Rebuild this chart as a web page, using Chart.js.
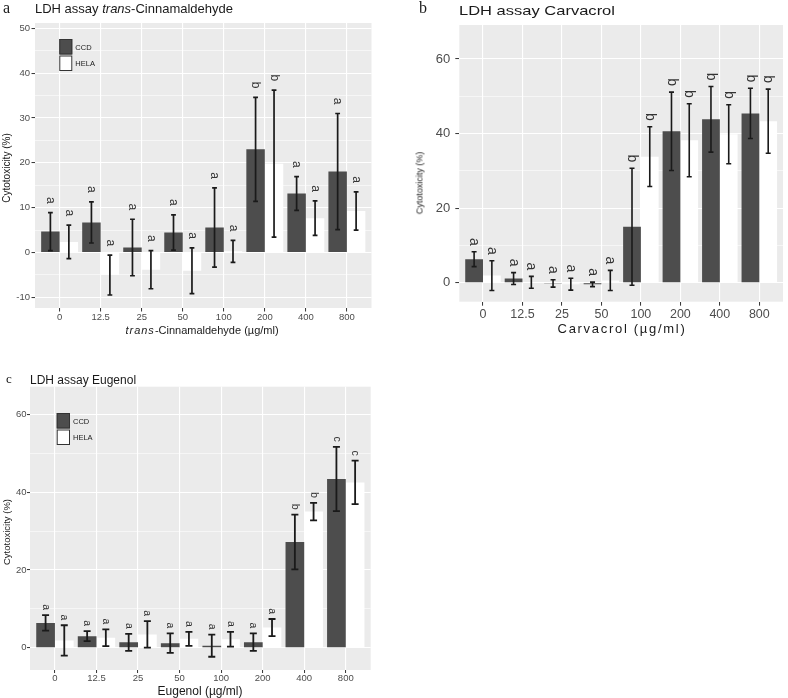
<!DOCTYPE html>
<html>
<head>
<meta charset="utf-8">
<script src="https://cdn.jsdelivr.net/npm/chart.js@4"></script>
<style>
  body { margin: 0; background: #fff; }
  #fig { position: relative; width: 788px; height: 698px; overflow: hidden;
         font-family: "Liberation Sans", Arial, sans-serif; color: #1a1a1a; }
  .box { position: absolute; }
  .t { position: absolute; white-space: nowrap; line-height: 1; }
  .ctr { transform: translate(-50%, -50%); }
  .rot { transform: translate(-50%, -50%) rotate(-90deg); }
  .tag { font-family: "Liberation Serif", "Times New Roman", serif; }
  .narrow { font-family: "Liberation Sans Narrow", "Arial Narrow", "Liberation Sans", sans-serif; }
</style>
</head>
<body>
<div id="fig">
  <div class="box" style="left:0;top:0"><canvas id="cinn" width="385" height="345"></canvas></div>
  <div class="box" style="left:400px;top:0"><canvas id="carv" width="388" height="345"></canvas></div>
  <div class="box" style="left:0;top:380px"><canvas id="eug" width="385" height="318"></canvas></div>

  <div class="t tag" style="left:3px;top:0;font-size:16px">a</div>
  <div class="t" style="left:35px;top:2px;font-size:13px">LDH assay <i>trans</i>-Cinnamaldehyde</div>
  <div class="t rot" style="left:7px;top:168px;font-size:10px">Cytotoxicity (%)</div>
  <div class="t ctr" style="left:202px;top:330px;font-size:11px"><i style="letter-spacing:1px">trans</i>-Cinnamaldehyde (µg/ml)</div>

  <div class="t tag" style="left:419px;top:0;font-size:16px">b</div>
  <div class="t" style="left:459px;top:4px;font-size:13px;transform:scaleX(1.27);transform-origin:left top">LDH assay Carvacrol</div>
  <div class="t rot narrow" style="left:420px;top:183px;font-size:9px">Cytotoxicity (%)</div>
  <div class="t ctr" style="left:622px;top:328px;font-size:13px;letter-spacing:1.7px">Carvacrol (µg/ml)</div>

  <div class="t tag" style="left:6px;top:372px;font-size:13px">c</div>
  <div class="t narrow" style="left:30px;top:374px;font-size:12px">LDH assay Eugenol</div>
  <div class="t rot" style="left:7px;top:532px;font-size:9.5px">Cytotoxicity (%)</div>
  <div class="t ctr" style="left:200px;top:691px;font-size:12px">Eugenol (µg/ml)</div>
</div>

<script>
const doses = ["0", "12.5", "25", "50", "100", "200", "400", "800"];

// trans-Cinnamaldehyde
const cinnCCD = [4.65, 6.7, 1.1, 4.45, 5.55, 23.0, 13.15, 18.05];
const cinnCCDsd = [4.25, 4.6, 6.3, 3.95, 8.85, 11.6, 3.75, 12.95];
const cinnHELA = [2.35, -5.05, -3.85, -4.1, 0.25, 19.8, 7.65, 9.25];
const cinnHELAsd = [3.75, 4.45, 4.25, 5.1, 2.45, 16.4, 3.85, 4.25];
const cinnCCDLetters = ["a", "a", "a", "a", "a", "b", "a", "a"];
const cinnHELALetters = ["a", "a", "a", "a", "a", "b", "a", "a"];
const cinnYTicks = [-10, 0, 10, 20, 30, 40, 50];

// Carvacrol
const carvCCD = [6.3, 1.1, -0.2, -0.45, 15.0, 40.6, 43.8, 45.4];
const carvCCDsd = [2.0, 1.6, 1.0, 0.6, 15.7, 10.5, 8.8, 6.75];
const carvHELA = [1.9, 0.1, -0.4, 0.6, 33.8, 38.2, 39.8, 43.3];
const carvHELAsd = [4.0, 1.6, 1.6, 2.7, 8.0, 9.8, 7.9, 8.6];
const carvCCDLetters = ["a", "a", "a", "a", "b", "b", "b", "b"];
const carvHELALetters = ["a", "a", "a", "a", "b", "b", "b", "b"];
const carvYTicks = [0, 20, 40, 60];

// Eugenol
const eugCCD = [6.4, 3.0, 1.4, 1.2, 0.55, 1.45, 27.2, 43.4];
const eugCCDsd = [2.0, 1.3, 2.2, 2.5, 2.85, 2.25, 7.05, 8.25];
const eugHELA = [1.9, 2.6, 3.45, 2.3, 2.2, 5.2, 35.0, 42.5];
const eugHELAsd = [3.9, 2.15, 3.4, 1.8, 1.9, 2.2, 2.25, 5.6];
const eugCCDLetters = ["a", "a", "a", "a", "a", "a", "b", "c"];
const eugHELALetters = ["a", "a", "a", "a", "a", "a", "b", "c"];
const eugYTicks = [0, 20, 40, 60];

Chart.defaults.font.family = "'Liberation Sans', Arial, sans-serif";

// grey ggplot-like panel behind the grid
const panelBg = {
  id: "panelBg",
  beforeDraw(chart) {
    const { ctx, chartArea: a } = chart;
    ctx.save();
    ctx.fillStyle = "#ebebeb";
    ctx.fillRect(a.left, a.top, a.width, a.height);
    ctx.restore();
  },
};

// mean +/- sd whiskers and the significance letters above them
const errorBars = {
  id: "errorBars",
  afterDatasetsDraw(chart, args, opts) {
    const { ctx } = chart;
    const y = chart.scales.y;
    ctx.save();
    chart.data.datasets.forEach((ds, di) => {
      chart.getDatasetMeta(di).data.forEach((bar, i) => {
        const hi = y.getPixelForValue(ds.data[i] + ds.errors[i]);
        const lo = y.getPixelForValue(ds.data[i] - ds.errors[i]);
        ctx.strokeStyle = "#1a1a1a";
        ctx.lineWidth = opts.width;
        ctx.beginPath();
        ctx.moveTo(bar.x, hi);
        ctx.lineTo(bar.x, lo);
        ctx.moveTo(bar.x - opts.cap, hi);
        ctx.lineTo(bar.x + opts.cap, hi);
        ctx.moveTo(bar.x - opts.cap, lo);
        ctx.lineTo(bar.x + opts.cap, lo);
        ctx.stroke();

        ctx.save();
        ctx.translate(bar.x, hi - opts.gap);
        ctx.rotate(Math.PI / 2);
        ctx.font = opts.font;
        ctx.fillStyle = "#333";
        ctx.textAlign = "right";
        ctx.textBaseline = "middle";
        ctx.fillText(ds.letters[i], 0, 0);
        ctx.restore();
      });
    });
    ctx.restore();
  },
};

// small fill legend inside the panel
const boxLegend = {
  id: "boxLegend",
  afterDraw(chart, args, o) {
    const { ctx } = chart;
    ctx.save();
    chart.data.datasets.forEach((ds, i) => {
      const top = o.y + i * (o.h + 1);
      ctx.fillStyle = ds.backgroundColor;
      ctx.fillRect(o.x, top, o.w, o.h);
      ctx.strokeStyle = "#333";
      ctx.lineWidth = 1;
      ctx.strokeRect(o.x + 0.5, top + 0.5, o.w - 1, o.h - 1);
      ctx.fillStyle = "#1a1a1a";
      ctx.font = o.size + "px 'Liberation Sans', Arial, sans-serif";
      ctx.textBaseline = "middle";
      ctx.fillText(ds.label, o.x + o.w + 3, top + o.h / 2 + 1);
    });
    ctx.restore();
  },
};

function gridValues(major, min, max) {
  // major ticks plus the ggplot minor lines halfway between them
  const out = [];
  const step = major[1] - major[0];
  for (let v = major[0] - step / 2; v <= max; v += step / 2) {
    if (v >= min) out.push(v);
  }
  return out;
}

function buildPanel(id, ccd, ccdSd, ccdLet, hela, helaSd, helaLet, yMin, yMax, yMajor, look) {
  const yGrid = gridValues(yMajor, yMin, yMax);
  const isMajor = (v) => yMajor.includes(v);
  return new Chart(document.getElementById(id), {
    type: "bar",
    data: {
      labels: doses,
      datasets: [
        { label: "CCD", data: ccd, errors: ccdSd, letters: ccdLet, backgroundColor: "#4d4d4d" },
        { label: "HELA", data: hela, errors: helaSd, letters: helaLet, backgroundColor: "#ffffff" },
      ],
    },
    options: {
      responsive: false,
      animation: false,
      layout: { padding: { top: look.top, right: look.right, left: 0, bottom: 0 } },
      datasets: { bar: { categoryPercentage: 0.9, barPercentage: 1.0 } },
      plugins: {
        legend: { display: false },
        tooltip: { enabled: false },
        errorBars: look.err,
        boxLegend: look.legend,
      },
      scales: {
        x: {
          offset: true,
          border: { display: false },
          grid: { offset: false, color: "#ffffff", lineWidth: 1.1, tickLength: look.tick, tickColor: "#333", tickWidth: 1 },
          ticks: { autoSkip: false, maxRotation: 0, color: "#4d4d4d", font: { size: look.xFont }, padding: look.xPad },
          afterBuildTicks: (s) => {
            // ggplot pads a discrete axis by 0.6 of a category on each side
            s._startValue = -0.6;
            s._valueRange = doses.length - 1 + 1.2;
          },
          afterFit: (s) => { s.height = look.xAxisH; },
        },
        y: {
          min: yMin,
          max: yMax,
          border: { display: false },
          grid: {
            color: "#ffffff",
            lineWidth: (c) => (c.tick && isMajor(c.tick.value) ? 1.1 : 0.55),
            tickLength: look.tick,
            tickColor: (c) => (c.tick && isMajor(c.tick.value) ? "#333" : "rgba(0,0,0,0)"),
            tickWidth: 1,
          },
          ticks: {
            color: "#4d4d4d",
            font: { size: look.yFont },
            padding: look.yPad,
            callback: (v) => (isMajor(v) ? String(v) : ""),
          },
          afterBuildTicks: (s) => { s.ticks = yGrid.map((v) => ({ value: v })); },
          afterFit: (s) => { s.width = look.yAxisW; },
        },
      },
    },
    plugins: [panelBg, errorBars, boxLegend],
  });
}

buildPanel("cinn", cinnCCD, cinnCCDsd, cinnCCDLetters, cinnHELA, cinnHELAsd, cinnHELALetters,
  -12.4, 51.2, cinnYTicks, {
    top: 23, right: 13.5, yAxisW: 35, xAxisH: 37, tick: 3.5, xFont: 9.5, yFont: 9.5, xPad: 0, yPad: 1.5,
    err: { width: 1.7, cap: 2.4, gap: 9, font: "12px 'Liberation Sans', Arial, sans-serif" },
    legend: { x: 59.3, y: 39, w: 13, h: 15.5, size: 7.5 },
  });

buildPanel("carv", carvCCD, carvCCDsd, carvCCDLetters, carvHELA, carvHELAsd, carvHELALetters,
  -5.1, 69.1, carvYTicks, {
    top: 25, right: 5, yAxisW: 59.3, xAxisH: 43.3, tick: 4, xFont: 12.5, yFont: 13, xPad: 1, yPad: 5,
    err: { width: 1.6, cap: 2.5, gap: 6, font: "14px 'Liberation Sans', Arial, sans-serif" },
    legend: false,
  });

buildPanel("eug", eugCCD, eugCCDsd, eugCCDLetters, eugHELA, eugHELAsd, eugHELALetters,
  -5.7, 67.1, eugYTicks, {
    top: 6.7, right: 14.3, yAxisW: 30, xAxisH: 28, tick: 3, xFont: 9.5, yFont: 9.5, xPad: 0, yPad: 0.5,
    err: { width: 1.8, cap: 3.5, gap: 5, font: "10.5px 'Liberation Sans', Arial, sans-serif" },
    legend: { x: 56.7, y: 33, w: 13.3, h: 15.5, size: 7.5 },
  });
</script>
</body>
</html>
